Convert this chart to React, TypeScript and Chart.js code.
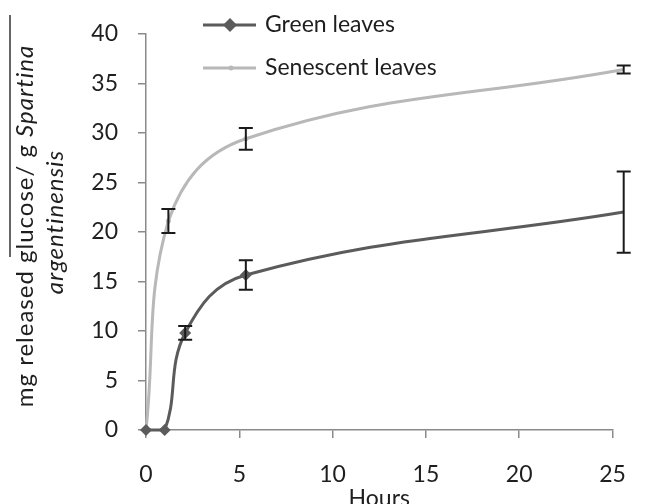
import { useEffect, useRef } from "react";
import { Chart, registerables } from "chart.js";

Chart.register(...registerables);

const seriesNames = ["Green leaves", "Senescent leaves"];
const greenHours = [0, 1, 2.1, 5.35, 25.6];
const greenGlucose = [0, 0, 9.8, 15.65, 22.0];
const greenError = [0, 0, 0.7, 1.5, 4.1];
const senescentHours = [0, 1.2, 5.35, 25.6];
const senescentGlucose = [0, 21.1, 29.4, 36.4];
const senescentError = [0, 1.2, 1.1, 0.4];
const xRange = [0, 25];
const yRange = [0, 40];
const tickStep = 5;
const xTitle = "Hours";
const yTitleLine1 = ["mg released glucose/ g ", "Spartina"];
const yTitleLine2 = "argentinensis";

const FONT = "Lato";
const GREEN_COLOR = "#5b5b5b";
const SEN_COLOR = "#b8b8b8";
const AXIS_COLOR = "#8a8a8a";
const TEXT_COLOR = "#1e1e1e";

export default function App() {
  const ref = useRef<HTMLCanvasElement>(null);

  useEffect(() => {
    const canvas = ref.current;
    if (!canvas) return;

    const errors = [greenError, senescentError];

    const errorBars = {
      id: "errorBars",
      afterDatasetsDraw(chart: any) {
        const ctx = chart.ctx;
        const xs = chart.scales.x;
        const ys = chart.scales.y;
        ctx.save();
        ctx.strokeStyle = "#1a1a1a";
        ctx.lineWidth = 2;
        chart.data.datasets.forEach((ds: any, di: number) => {
          ds.data.forEach((p: any, i: number) => {
            const e = errors[di][i];
            if (!e) return;
            const px = xs.getPixelForValue(p.x);
            const top = ys.getPixelForValue(p.y + e);
            const bot = ys.getPixelForValue(p.y - e);
            ctx.beginPath();
            ctx.moveTo(px, top);
            ctx.lineTo(px, bot);
            ctx.moveTo(px - 7, top);
            ctx.lineTo(px + 7, top);
            ctx.moveTo(px - 7, bot);
            ctx.lineTo(px + 7, bot);
            ctx.stroke();
          });
        });
        ctx.restore();
      },
    };

    const texts = {
      id: "texts",
      afterDraw(chart: any) {
        const ctx = chart.ctx;
        const area = chart.chartArea;
        ctx.save();
        ctx.fillStyle = TEXT_COLOR;
        ctx.textBaseline = "middle";

        // x title
        ctx.font = `23px ${FONT}`;
        ctx.textAlign = "center";
        ctx.fillText(xTitle, (area.left + area.right) / 2, 499);

        // y title line 1 (mixed italic)
        ctx.save();
        (ctx as any).letterSpacing = "1px";
        ctx.translate(25, 226);
        ctx.rotate(-Math.PI / 2);
        ctx.textAlign = "left";
        ctx.font = `24px ${FONT}`;
        const w1 = ctx.measureText(yTitleLine1[0]).width;
        ctx.font = `italic 24px ${FONT}`;
        const w2 = ctx.measureText(yTitleLine1[1]).width;
        const start = -(w1 + w2) / 2;
        ctx.font = `24px ${FONT}`;
        ctx.fillText(yTitleLine1[0], start, 0);
        ctx.font = `italic 24px ${FONT}`;
        ctx.fillText(yTitleLine1[1], start + w1, 0);
        ctx.restore();

        // y title line 2
        ctx.save();
        (ctx as any).letterSpacing = "1px";
        ctx.translate(55, 222);
        ctx.rotate(-Math.PI / 2);
        ctx.textAlign = "center";
        ctx.font = `italic 24px ${FONT}`;
        ctx.fillText(yTitleLine2, 0, 0);
        ctx.restore();

        // stray rule next to the y title
        ctx.strokeStyle = "#333";
        ctx.lineWidth = 1.5;
        ctx.beginPath();
        ctx.moveTo(10, 15);
        ctx.lineTo(10, 257);
        ctx.stroke();

        // legend
        const rows = [
          { y: 25, color: GREEN_COLOR, name: seriesNames[0], diamond: true },
          { y: 68, color: SEN_COLOR, name: seriesNames[1], diamond: false },
        ];
        rows.forEach((r) => {
          ctx.strokeStyle = r.color;
          ctx.lineWidth = 3;
          ctx.beginPath();
          ctx.moveTo(203, r.y);
          ctx.lineTo(256, r.y);
          ctx.stroke();
          ctx.fillStyle = r.color;
          ctx.beginPath();
          if (r.diamond) {
            ctx.moveTo(230, r.y - 7);
            ctx.lineTo(237, r.y);
            ctx.lineTo(230, r.y + 7);
            ctx.lineTo(223, r.y);
            ctx.closePath();
          } else {
            ctx.arc(231, r.y, 2.5, 0, Math.PI * 2);
          }
          ctx.fill();
          ctx.fillStyle = TEXT_COLOR;
          ctx.font = `23px ${FONT}`;
          ctx.textAlign = "left";
          ctx.fillText(r.name, 265, r.y);
        });
        ctx.restore();
      },
    };

    const chart = new Chart(canvas, {
      type: "line",
      data: {
        datasets: [
          {
            label: seriesNames[0],
            data: greenHours.map((x, i) => ({ x, y: greenGlucose[i] })),
            borderColor: GREEN_COLOR,
            backgroundColor: GREEN_COLOR,
            borderWidth: 3,
            pointStyle: "rectRot",
            pointRadius: 6,
            pointBorderWidth: 0,
            tension: 0.4,
            clip: false,
            fill: false,
          },
          {
            label: seriesNames[1],
            data: senescentHours.map((x, i) => ({ x, y: senescentGlucose[i] })),
            borderColor: SEN_COLOR,
            backgroundColor: SEN_COLOR,
            borderWidth: 3,
            pointStyle: "circle",
            pointRadius: 2.5,
            pointBorderWidth: 0,
            tension: 0.4,
            clip: false,
            fill: false,
          },
        ],
      },
      options: {
        responsive: false,
        animation: false,
        devicePixelRatio: 1,
        layout: { padding: { left: 0, right: 41.5, top: 22.7, bottom: 0 } },
        plugins: {
          legend: { display: false },
          tooltip: { enabled: false },
        },
        scales: {
          x: {
            type: "linear",
            min: xRange[0],
            max: xRange[1],
            ticks: {
              stepSize: tickStep,
              padding: 23,
              color: TEXT_COLOR,
              font: { family: FONT, size: 23 },
            },
            grid: {
              drawOnChartArea: false,
              drawTicks: true,
              tickLength: 8,
              color: AXIS_COLOR,
              lineWidth: 1.5,
            },
            border: { color: AXIS_COLOR, width: 1.5 },
            afterFit(scale: any) {
              scale.height = 74;
            },
          },
          y: {
            type: "linear",
            min: yRange[0],
            max: yRange[1],
            ticks: {
              stepSize: tickStep,
              padding: 20,
              color: TEXT_COLOR,
              font: { family: FONT, size: 23 },
            },
            grid: {
              drawOnChartArea: false,
              drawTicks: true,
              tickLength: 8,
              color: AXIS_COLOR,
              lineWidth: 1.5,
            },
            border: { color: AXIS_COLOR, width: 1.5 },
            afterFit(scale: any) {
              scale.width = 146;
            },
          },
        },
      },
      plugins: [errorBars, texts],
    } as any);

    return () => chart.destroy();
  }, []);

  return (
    <div style={{ position: "fixed", left: 0, top: 0, width: 654, height: 504, background: "#fff" }}>
      <canvas ref={ref} width={654} height={504} style={{ width: 654, height: 504 }} />
    </div>
  );
}
